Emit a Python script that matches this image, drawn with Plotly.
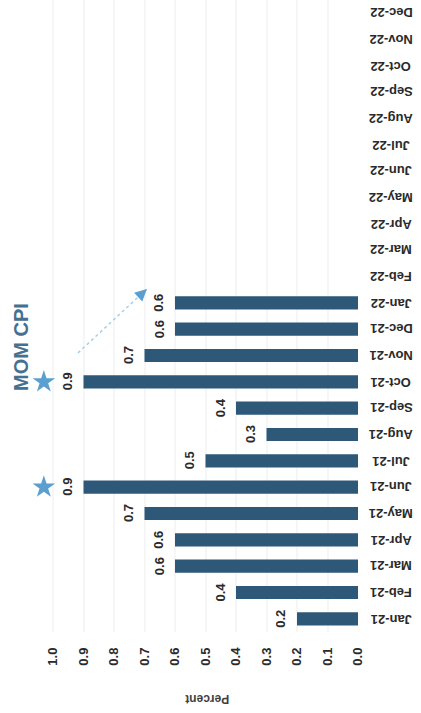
import plotly.graph_objects as go

# Month-over-month CPI change, percent
months = ["Jan-21", "Feb-21", "Mar-21", "Apr-21", "May-21", "Jun-21",
          "Jul-21", "Aug-21", "Sep-21", "Oct-21", "Nov-21", "Dec-21",
          "Jan-22", "Feb-22", "Mar-22", "Apr-22", "May-22", "Jun-22",
          "Jul-22", "Aug-22", "Sep-22", "Oct-22", "Nov-22", "Dec-22"]
mom_cpi = [0.2, 0.4, 0.6, 0.6, 0.7, 0.9, 0.5, 0.3, 0.4, 0.9, 0.7, 0.6,
           0.6, None, None, None, None, None, None, None, None, None, None, None]
value_ticks = [0.0, 0.1, 0.2, 0.3, 0.4, 0.5, 0.6, 0.7, 0.8, 0.9, 1.0]
star_months = ["Jun-21", "Oct-21"]
star_pos = 1.03
# trend arrow: (value, month index) from tail to head
arrow_tail = (0.918, 10.1)
arrow_head = (0.692, 12.53)

BAR = "#2e5878"
STAR = "#5b9fd0"
ARROW = "#a6cfe8"
TEXT = "#2a2a2a"
FONT = "Liberation Sans"

fig = go.Figure()
fig.add_trace(go.Bar(
    x=mom_cpi, y=months, orientation="h",
    marker=dict(color=BAR, line=dict(width=0)),
    hoverinfo="x+y",
))
fig.add_trace(go.Scatter(
    x=[star_pos] * len(star_months), y=star_months, mode="markers",
    marker=dict(symbol="star", size=17, color=STAR, line=dict(width=0)),
    hoverinfo="skip",
))

annotations = []
# category labels, rotated with the chart
for i, m in enumerate(months):
    annotations.append(dict(
        x=1.098, xref="paper", y=i, yref="y", text=m, showarrow=False,
        textangle=180, xanchor="center", yanchor="middle",
        font=dict(family=FONT, size=13, color=TEXT, weight="bold"),
    ))
# value labels at bar ends
for i, v in enumerate(mom_cpi):
    if v is None:
        continue
    annotations.append(dict(
        x=v, xref="x", y=i, yref="y", text=f"{v:.1f}", showarrow=False,
        textangle=-90, xanchor="center", yanchor="middle", xshift=-16,
        font=dict(family=FONT, size=13, color=TEXT, weight="bold"),
    ))
# title and axis title
annotations.append(dict(
    x=-0.003, xref="paper", y=0.451, yref="paper", text="MOM CPI",
    showarrow=False, textangle=-90, xanchor="center", yanchor="middle",
    font=dict(family=FONT, size=20, color="#46708f", weight="bold"),
))
annotations.append(dict(
    x=0.551, xref="paper", y=-0.106, yref="paper", text="Percent",
    showarrow=False, textangle=180, xanchor="center", yanchor="middle",
    font=dict(family=FONT, size=12, color="#404040", weight="bold"),
))
# arrowhead of the dotted trend line
annotations.append(dict(
    x=arrow_head[0], xref="x", y=arrow_head[1], yref="y", text="",
    showarrow=True, ax=-7, ay=6.5, arrowhead=2, arrowsize=1.6,
    arrowwidth=1.5, arrowcolor=STAR,
))

fig.add_shape(type="line", xref="x", yref="y",
              x0=arrow_tail[0], y0=arrow_tail[1],
              x1=arrow_head[0], y1=arrow_head[1],
              line=dict(color=ARROW, width=1.5, dash="dot"))

fig.update_layout(
    width=421, height=713,
    margin=dict(l=22, r=63, t=0, b=81),
    paper_bgcolor="white", plot_bgcolor="white",
    showlegend=False, bargap=0.5,
    annotations=annotations,
    xaxis=dict(
        range=[336 / 305, 0], tickvals=value_ticks,
        ticktext=[f"{t:.1f}" for t in value_ticks],
        tickangle=-90, ticklabelstandoff=12,
        tickfont=dict(family=FONT, size=13, color=TEXT, weight="bold"),
        showgrid=True, gridcolor="#f6f6f6", gridwidth=2,
        zeroline=False, showline=False, ticks="",
    ),
    yaxis=dict(
        type="category", categoryorder="array", categoryarray=months,
        range=[-0.5, len(months) - 0.5], showticklabels=False,
        showgrid=False, zeroline=False, showline=False, ticks="",
    ),
)

fig.write_html("out.html")
